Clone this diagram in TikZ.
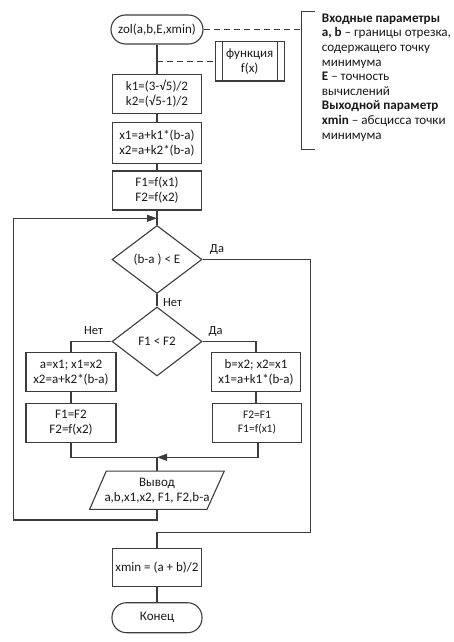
\documentclass[tikz,border=0pt]{standalone}
\usepackage{fontspec}
\setmainfont{Carlito}
\usetikzlibrary{shapes.geometric,arrows.meta}
\definecolor{ln}{RGB}{60,60,60}
\definecolor{tx}{RGB}{25,25,25}
\begin{document}
\begin{tikzpicture}[x=1pt,y=-1pt,
  every node/.style={text=tx, font=\fontsize{13}{15}\selectfont, align=center, inner sep=0pt},
  box/.style={draw=ln, line width=1.1pt, minimum width=89.5pt, minimum height=39pt},
  term/.style={box, rounded corners=14.5pt},
  dia/.style={draw=ln, line width=1.1pt, diamond, minimum width=90pt, minimum height=68pt},
  conn/.style={draw=ln, line width=1.1pt},
  arr/.style={conn, -{Triangle[length=10pt,width=7pt]}},
  dsh/.style={draw=ln, line width=1.1pt, dash pattern=on 6pt off 4pt},
  lbl/.style={font=\fontsize{12.5}{14}\selectfont},
  note/.style={font=\fontsize{13.1}{14.6}\selectfont, align=left, anchor=north west}
]
\useasboundingbox (0,0) rectangle (453,642);

% nodes
\node[term, minimum width=92pt, minimum height=29pt] (start) at (157,29.5) {zol(a,b,E,xmin)};
\node[box, minimum width=69.3pt, minimum height=39.3pt] (func) at (249.7,61.3) {функция\\f(x)};
\node[box, minimum height=39.3pt] (k) at (157,93.7) {k1=(3-√5)/2\\k2=(√5-1)/2};
\node[box, minimum height=41pt] (x) at (157,142.8) {x1=a+k1*(b-a)\\x2=a+k2*(b-a)};
\node[box] (F) at (157,190.5) {F1=f(x1)\\F2=f(x2)};
\node[dia] (d1) at (157,259.5) {(b-a ) < E};
\node[dia, minimum height=69pt] (d2) at (157,341.5) {F1 < F2};
\node[box, minimum width=90pt] (A) at (71,372.2) {a=x1; x1=x2\\x2=a+k2*(b-a)};
\node[box, minimum width=90pt] (B) at (71,422.8) {F1=F2\\F2=f(x2)};
\node[box] (C) at (256,372.2) {b=x2; x2=x1\\x1=a+k1*(b-a)};
\node[box, font=\fontsize{11.5}{14}\selectfont] (D) at (257,422.8) {F2=F1\\F1=f(x1)};
\node[minimum width=100pt, minimum height=38.3pt] (out) at (157,490.2) {Вывод\\a,b,x1,x2, F1, F2,b-a};
\node[box, minimum height=38.4pt] (E) at (157,567.5) {xmin = (a + b)/2};
\node[term, minimum width=90pt, minimum height=30pt] (end) at (157,617.7) {Конец};

% inner bars of the function box
\draw[conn] ([xshift=7.7pt]func.north west) -- ([xshift=7.7pt]func.south west);
\draw[conn] ([xshift=-7.7pt]func.north east) -- ([xshift=-7.7pt]func.south east);

% parallelogram
\draw[conn] ([shift={(-50.7,-19.15)}]out.center) -- ([shift={(67.3,-19.15)}]out.center)
  -- ([shift={(50,19.15)}]out.center) -- ([shift={(-67.4,19.15)}]out.center) -- cycle;

% comment bracket and text
\coordinate (brT) at (315,11.5);
\coordinate (brM) at (301.7,29.5);
\coordinate (brB) at (315,149.5);
\draw[conn] (brT) -- (301.7,11.5) -- (301.7,149.5) -- (brB);
\draw[dsh] (start.east) -- (brM);
\coordinate (fj) at (157,61.3);
\draw[dsh] (fj) -- (func.west);
\node[note] (txt) at (321.7,13.6) {\textbf{Входные параметры}\\
\textbf{a, b} – границы отрезка,\\
содержащего точку\\
минимума\\
\textbf{E} – точность\\
вычислений\\
\textbf{Выходной параметр}\\
\textbf{xmin} – абсцисса точки\\
минимума};

% main connectors
\draw[conn] (start) -- (k);
\draw[conn] (k) -- (x);
\draw[conn] (x) -- (F);
\draw[conn] (F) -- (d1);
\draw[conn] (d1) -- (d2);
\node[lbl, anchor=west] (no1) at (163,302.5) {Нет};
\coordinate (r1) at (310.7,259.5);
\coordinate (r2) at (310.7,532.3);
\coordinate (r3) at (157,532.3);
\draw[conn] (d1.east) -- (r1) -- (r2) -- (r3) -- (E.north);
\node[lbl] (yes1) at (217,249) {Да};
\draw[conn] (E) -- (end);

% branches
\coordinate (lb) at (71,341.5);
\coordinate (rb) at (256,341.5);
\draw[conn] (d2.west) -- (lb) -- (A.north);
\draw[conn] (d2.east) -- (rb) -- (C.north);
\node[lbl] (no2) at (93.5,331) {Нет};
\node[lbl] (yes2) at (215.6,331) {Да};
\draw[conn] (A) -- (B);
\draw[conn] (C.south) -- (C.south |- D.north);
\coordinate (mj) at (157,457.3);
\coordinate (ml) at (71,457.3);
\coordinate (mr) at (258,457.3);
\draw[conn] (B.south) -- (ml) -- (mj);
\draw[arr] (mr |- D.south) -- (mr) -- (mj);
\draw[conn] (mj) -- (out.north);

% loop back
\coordinate (l1) at (157,520);
\coordinate (l2) at (13.3,520);
\coordinate (l3) at (13.3,218.3);
\coordinate (l4) at (157,218.3);
\draw[arr] (out.south) -- (l1) -- (l2) -- (l3) -- (l4);
\end{tikzpicture}
\end{document}
